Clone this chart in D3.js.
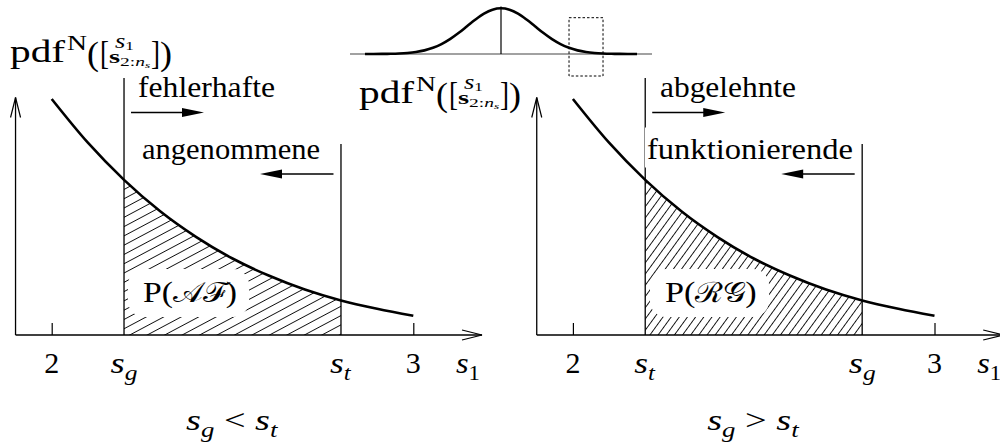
<!DOCTYPE html>
<html>
<head>
<meta charset="utf-8">
<script src="https://cdn.jsdelivr.net/npm/d3@7"></script>
<style>
  html, body { margin: 0; padding: 0; background: #fff; }
  svg { display: block; }
  text { font-family: "Liberation Serif", "Times New Roman", Times, serif; fill: #000; }
</style>
</head>
<body>
<svg id="chart" width="1000" height="445"></svg>
<script>
// ---- data ---------------------------------------------------------------
// upper tail of the standard normal density, s1 = 2 ... 3
const tailS   = [2.0, 2.1, 2.2, 2.3, 2.4, 2.5, 2.6, 2.7, 2.8, 2.9, 3.0];
const tailPdf = [0.0540, 0.0440, 0.0355, 0.0283, 0.0224, 0.0175, 0.0136, 0.0104, 0.0079, 0.0060, 0.0044];

// full density for the overview sketch
const fullS   = [-4, -3.75, -3.5, -3.25, -3, -2.75, -2.5, -2.25, -2, -1.75, -1.5, -1.25, -1, -0.75, -0.5, -0.25,
                 0, 0.25, 0.5, 0.75, 1, 1.25, 1.5, 1.75, 2, 2.25, 2.5, 2.75, 3, 3.25, 3.5, 3.75, 4];
const fullPdf = [0.0001, 0.0004, 0.0009, 0.0020, 0.0044, 0.0091, 0.0175, 0.0317, 0.0540, 0.0863, 0.1295, 0.1826,
                 0.2420, 0.3011, 0.3521, 0.3867, 0.3989, 0.3867, 0.3521, 0.3011, 0.2420, 0.1826, 0.1295, 0.0863,
                 0.0540, 0.0317, 0.0175, 0.0091, 0.0044, 0.0020, 0.0009, 0.0004, 0.0001];
const zoomWindow = [2, 3];

// axis ticks and thresholds
const tickValues = [2, 3];
const tickLabels = ["2", "3"];
const thresholds = [2.2, 2.8];

// per panel: subscripts at the two thresholds, texts, area label, caption relation
const lowThresholdSub  = ["g", "t"];
const highThresholdSub = ["t", "g"];
const topTexts   = ["fehlerhafte", "abgelehnte"];
const midTexts   = ["angenommene", "funktionierende"];
const areaNames  = ["\u{1D49C}\u2131", "\u211B\u{1D4A2}"];
const relations  = ["<", ">"];

// ---- helpers ------------------------------------------------------------
const svg  = d3.select("#chart");
const defs = svg.append("defs");

// text made of styled pieces (sub/superscripts via dy), optionally
// stretched horizontally to a given width
function mathText(parent, parts, x, y, o = {}) {
  const g = parent.append("g");
  const t = g.append("text").attr("x", 0).attr("y", 0);
  let cur = 0;
  parts.forEach(p => {
    const ts = t.append("tspan").text(p.t)
      .attr("font-size", p.size || 30)
      .attr("font-style", p.it ? "italic" : "normal")
      .attr("font-weight", p.bold ? "bold" : "normal");
    if (p.font) ts.style("font-family", p.font);
    const off = p.dy || 0;
    if (off !== cur) { ts.attr("dy", off - cur); cur = off; }
    if (p.dx) ts.attr("dx", p.dx);
  });
  const bb = t.node().getBBox();
  const sx = o.width ? o.width / bb.width : 1;
  const w = bb.width * sx;
  let left = x;
  if (o.anchor === "middle") left = x - w / 2;
  else if (o.anchor === "end") left = x - w;
  g.attr("transform", `translate(${left - bb.x * sx},${y}) scale(${sx},1)`);
  return g;
}

function plainText(parent, str, left, base, width, size = 30) {
  return parent.append("text").attr("x", left).attr("y", base)
    .attr("font-size", size)
    .attr("textLength", width).attr("lengthAdjust", "spacingAndGlyphs")
    .text(str);
}

function solidArrow(parent, x1, x2, yy) {
  const dir = Math.sign(x2 - x1), len = 22, hw = 4.5;
  parent.append("line").attr("x1", x1).attr("x2", x2 - dir * 10)
    .attr("y1", yy).attr("y2", yy).attr("stroke", "#000").attr("stroke-width", 1.3);
  parent.append("path")
    .attr("d", `M${x2},${yy} L${x2 - dir * len},${yy - hw} L${x2 - dir * len},${yy + hw} Z`)
    .attr("fill", "#000");
}

function openHead(parent, tipX, tipY, dx, dy) {
  // dx,dy: unit direction of the arrow
  const len = 20, hw = 5;
  const bx = tipX - dx * len, by = tipY - dy * len;
  const px = -dy * hw, py = dx * hw;
  parent.append("path")
    .attr("d", `M${bx + px},${by + py} L${tipX},${tipY} L${bx - px},${by - py}`)
    .attr("fill", "none").attr("stroke", "#000").attr("stroke-width", 1.2);
}

function pdfLabel(parent, x0, b) {
  const g = parent.append("g");
  mathText(g, [{ t: "pdf", size: 31 }], x0, b, { width: 56 });
  mathText(g, [{ t: "N", size: 20 }], x0 + 57, b - 12, { width: 20 });
  mathText(g, [{ t: "(", size: 34 }], x0 + 77, b + 3, { width: 12 });
  mathText(g, [{ t: "[", size: 34 }], x0 + 90, b + 2, { width: 9 });
  mathText(g, [{ t: "s", size: 20, it: true }, { t: "1", size: 13, dy: 2 }], x0 + 105, b - 14, { width: 19 });
  mathText(g, [{ t: "s", size: 19, bold: true }, { t: "2:", size: 13, dy: 3 },
               { t: "n", size: 13, it: true, dy: 3 }, { t: "s", size: 9, it: true, dy: 5 }],
           x0 + 99, b + 1, { width: 42 });
  mathText(g, [{ t: "]", size: 34 }], x0 + 141, b + 2, { width: 9 });
  mathText(g, [{ t: ")", size: 34 }], x0 + 150, b + 3, { width: 12 });
}

// ---- scales shared by both panels ----------------------------------------
const y = d3.scaleLinear().domain([0, 0.054]).range([335, 99]);
const panelOffsets = [0, 521.2];
const topTextLayout = [{ left: 138, w: 137 }, { left: 660, w: 136 }];
const midTextLayout = [{ left: 142, w: 178 }, { left: 647, w: 206 }];
const areaLabelLayout = [{ left: 143, w: 94 }, { left: 665, w: 92 }];
const hatchAngle = [-28, -54];
const hatchGap = [8.2, 6.6];

panelOffsets.forEach((off, i) => {
  const x = d3.scaleLinear().domain([2, 3]).range([51.7 + off, 413.3 + off]);
  const g = svg.append("g").attr("class", "panel");
  const base = y(0);

  // hatch pattern
  const pat = defs.append("pattern").attr("id", "hatch" + i)
    .attr("patternUnits", "userSpaceOnUse")
    .attr("width", 40).attr("height", hatchGap[i])
    .attr("patternTransform", `rotate(${hatchAngle[i]})`);
  pat.append("line").attr("x1", 0).attr("x2", 40)
    .attr("y1", hatchGap[i] / 2).attr("y2", hatchGap[i] / 2)
    .attr("stroke", "#111").attr("stroke-width", 0.95);

  // region between the two thresholds, under the density
  const clipId = "between" + i;
  defs.append("clipPath").attr("id", clipId).append("rect")
    .attr("x", x(thresholds[0])).attr("y", 0)
    .attr("width", x(thresholds[1]) - x(thresholds[0])).attr("height", base);

  const pts = tailS.map((s, k) => [s, tailPdf[k]]);
  const area = d3.area().x(d => x(d[0])).y0(base).y1(d => y(d[1])).curve(d3.curveMonotoneX);
  const line = d3.line().x(d => x(d[0])).y(d => y(d[1])).curve(d3.curveMonotoneX);

  g.append("path").datum(pts).attr("d", area)
    .attr("fill", `url(#hatch${i})`).attr("clip-path", `url(#${clipId})`);

  // probability label on a cleared patch
  const al = areaLabelLayout[i];
  g.append("rect").attr("x", al.left - 15).attr("y", 269)
    .attr("width", al.w + 27).attr("height", 48).attr("rx", 16).attr("ry", 16)
    .attr("fill", "#fff");
  mathText(g, [{ t: "P(", size: 30 }, { t: areaNames[i], size: 28, it: false },
               { t: ")", size: 30 }], al.left, 302, { width: al.w });

  // axes
  const xAxisG = g.append("g").attr("transform", `translate(0,${base})`)
    .call(d3.axisBottom(x).tickValues(tickValues).tickSizeInner(-12).tickSizeOuter(0).tickFormat(""));
  xAxisG.select(".domain").remove();
  xAxisG.selectAll(".tick line").attr("stroke", "#000").attr("stroke-width", 1.2);

  const xStart = x(1.9), xTip = x(3.19);
  g.append("line").attr("x1", xStart).attr("x2", xTip).attr("y1", base).attr("y2", base)
    .attr("stroke", "#000").attr("stroke-width", 1.3);
  openHead(g, xTip, base, 1, 0);
  g.append("line").attr("x1", xStart).attr("x2", xStart).attr("y1", base).attr("y2", 97.5)
    .attr("stroke", "#000").attr("stroke-width", 1.3);
  openHead(g, xStart, 97.5, 0, -1);

  // threshold lines
  g.append("line").attr("x1", x(thresholds[0])).attr("x2", x(thresholds[0]))
    .attr("y1", 78).attr("y2", base).attr("stroke", "#000").attr("stroke-width", 1.3);
  g.append("line").attr("x1", x(thresholds[1])).attr("x2", x(thresholds[1]))
    .attr("y1", 144).attr("y2", base).attr("stroke", "#000").attr("stroke-width", 1.3);

  // density
  g.append("path").datum(pts).attr("d", line)
    .attr("fill", "none").attr("stroke", "#000").attr("stroke-width", 2.6);

  // direction texts and arrows
  const tt = topTextLayout[i], mt = midTextLayout[i];
  g.append("rect").attr("x", tt.left - 2).attr("y", 96.5 - 30).attr("width", tt.w + 4).attr("height", 39).attr("fill", "#fff");
  plainText(g, topTexts[i], tt.left, 96.5, tt.w);
  g.append("rect").attr("x", mt.left - 2).attr("y", 158.5 - 31).attr("width", mt.w + 4).attr("height", 40).attr("fill", "#fff");
  plainText(g, midTexts[i], mt.left, 158.5, mt.w);
  solidArrow(g, x(thresholds[0]) + 7, x(thresholds[0]) + 80, 112.5);
  solidArrow(g, x(thresholds[1]) - 7.5, x(thresholds[1]) - 81, 174);

  // tick labels
  tickValues.forEach((v, k) => {
    g.append("text").attr("x", x(v)).attr("y", 373).attr("font-size", 30)
      .attr("text-anchor", "middle").text(tickLabels[k]);
  });
  const subW = { g: 27, t: 22 };
  mathText(g, [{ t: "s", it: true, size: 30 }, { t: lowThresholdSub[i], it: true, size: 21, dy: 7 }],
           x(thresholds[0]), 373, { anchor: "middle", width: subW[lowThresholdSub[i]] });
  mathText(g, [{ t: "s", it: true, size: 30 }, { t: highThresholdSub[i], it: true, size: 21, dy: 7 }],
           x(thresholds[1]), 373, { anchor: "middle", width: subW[highThresholdSub[i]] });
  mathText(g, [{ t: "s", it: true, size: 30 }, { t: "1", size: 21, dy: 7 }],
           x(3.118), 373, { width: 24 });

  // caption
  mathText(g, [{ t: "s", it: true, size: 30 }, { t: "g", it: true, size: 21, dy: 7 },
               { t: " " + relations[i] + " ", size: 30 },
               { t: "s", it: true, size: 30 }, { t: "t", it: true, size: 21, dy: 7 }],
           x(2.5), 430, { anchor: "middle", width: 93 });
});

// y-axis labels
pdfLabel(svg, 10, 62);
pdfLabel(svg, 359, 103);

// ---- overview of the full density --------------------------------------
const gx = d3.scaleLinear().domain([-4.44, 4.44]).range([350, 652]);
const gy = d3.scaleLinear().domain([0, 0.3989]).range([54, 8.3]);
const ov = svg.append("g").attr("class", "overview");
ov.append("line").attr("x1", gx(-4.44)).attr("x2", gx(4.44)).attr("y1", gy(0)).attr("y2", gy(0))
  .attr("stroke", "#444").attr("stroke-width", 1.1);
ov.append("line").attr("x1", gx(0)).attr("x2", gx(0)).attr("y1", 6.5).attr("y2", gy(0))
  .attr("stroke", "#000").attr("stroke-width", 1.2);
ov.append("path").datum(fullS.map((s, k) => [s, fullPdf[k]]))
  .attr("d", d3.line().x(d => gx(d[0])).y(d => gy(d[1])).curve(d3.curveMonotoneX))
  .attr("fill", "none").attr("stroke", "#000").attr("stroke-width", 2.6);
ov.append("rect").attr("x", gx(zoomWindow[0])).attr("y", 17.7)
  .attr("width", gx(zoomWindow[1]) - gx(zoomWindow[0])).attr("height", 58.3)
  .attr("fill", "none").attr("stroke", "#000").attr("stroke-width", 1)
  .attr("stroke-dasharray", "2.5,2");
</script>
</body>
</html>
